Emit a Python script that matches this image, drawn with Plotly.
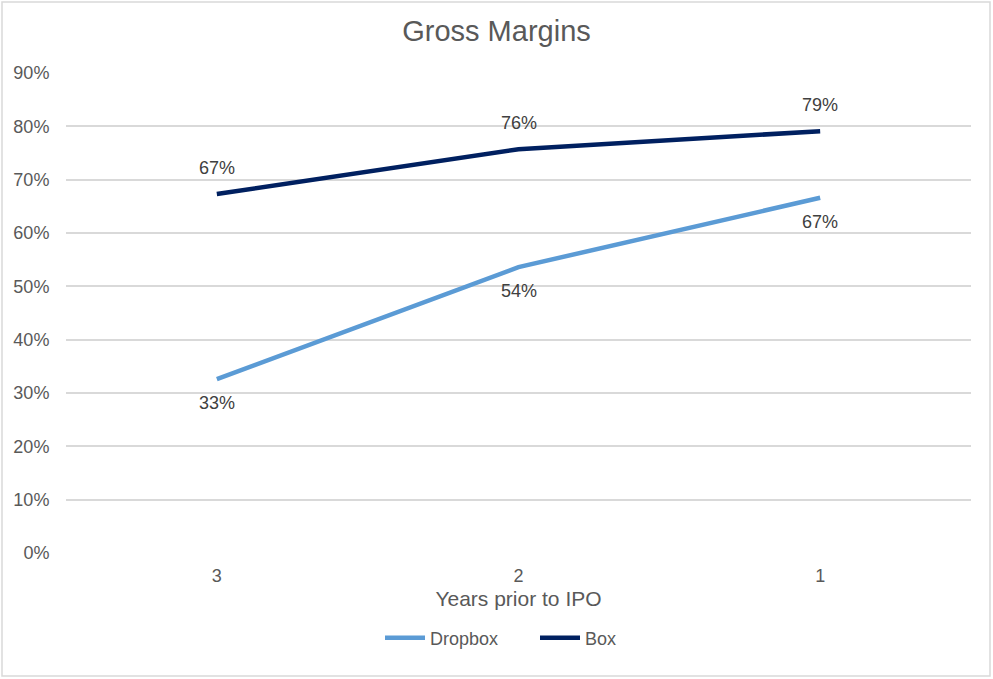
import plotly.graph_objects as go

years = ["3", "2", "1"]
dropbox = [0.326, 0.536, 0.666]
box = [0.673, 0.757, 0.791]
y_ticks = [0, 0.1, 0.2, 0.3, 0.4, 0.5, 0.6, 0.7, 0.8, 0.9]

GRAY = "#595959"
FONT = "Liberation Sans, Arial, sans-serif"

fig = go.Figure()
fig.add_trace(go.Scatter(x=years, y=dropbox, name="Dropbox", mode="lines",
                         line=dict(color="#5B9BD5", width=4.5)))
fig.add_trace(go.Scatter(x=years, y=box, name="Box", mode="lines",
                         line=dict(color="#002060", width=4.5)))

annotations = []
for i, v in enumerate(dropbox):
    annotations.append(dict(x=i, y=v, xref="x", yref="y", text=f"{round(v*100)}%", showarrow=False,
                            yshift=-24, font=dict(size=18, color="#404040", family=FONT)))
for i, v in enumerate(box):
    annotations.append(dict(x=i, y=v, xref="x", yref="y", text=f"{round(v*100)}%", showarrow=False,
                            yshift=26, font=dict(size=18, color="#404040", family=FONT)))

W, H = 993, 679
L, R, T, B = 66, 22, 73, 126
pw, ph = W - L - R, H - T - B

fig.update_layout(
    width=W, height=H,
    margin=dict(l=L, r=R, t=T, b=B),
    paper_bgcolor="white", plot_bgcolor="white",
    font=dict(family=FONT, color=GRAY, size=18),
    title=dict(text="Gross Margins", x=0.5, xanchor="center", y=1 - 31 / H, yanchor="middle",
               font=dict(size=29, color=GRAY, family=FONT)),
    xaxis=dict(type="category", range=[-0.5, 2.5], showgrid=False, zeroline=False, showline=False,
               ticks="outside", ticklen=6, tickcolor="rgba(0,0,0,0)", tickfont=dict(size=18, color=GRAY),
               title=dict(text="Years prior to IPO", font=dict(size=21, color=GRAY), standoff=6)),
    yaxis=dict(range=[0, 0.9], tickvals=y_ticks, tickformat=".0%", showgrid=True,
               gridcolor="#D9D9D9", gridwidth=1.5, zeroline=False, showline=False,
               ticks="outside", ticklen=12, tickcolor="rgba(0,0,0,0)", tickfont=dict(size=18, color=GRAY)),
    legend=dict(orientation="h", x=(380 - L) / pw, xanchor="left", y=(553 - 638) / ph, yanchor="middle",
                font=dict(size=18, color=GRAY), itemwidth=40, traceorder="normal",
                entrywidth=100, entrywidthmode="pixels"),
    showlegend=True,
    annotations=annotations,
    shapes=[dict(type="rect", xref="paper", yref="paper",
                 x0=(2 - L) / pw, x1=(990 - L) / pw,
                 y0=(553 - 676) / ph, y1=(553 - 2) / ph,
                 line=dict(color="#D9D9D9", width=1.5), fillcolor="rgba(0,0,0,0)", layer="below")],
)

fig.write_html("out.html", config={"displayModeBar": False},
               post_script="document.body.style.margin='0';document.body.style.overflow='hidden';")
